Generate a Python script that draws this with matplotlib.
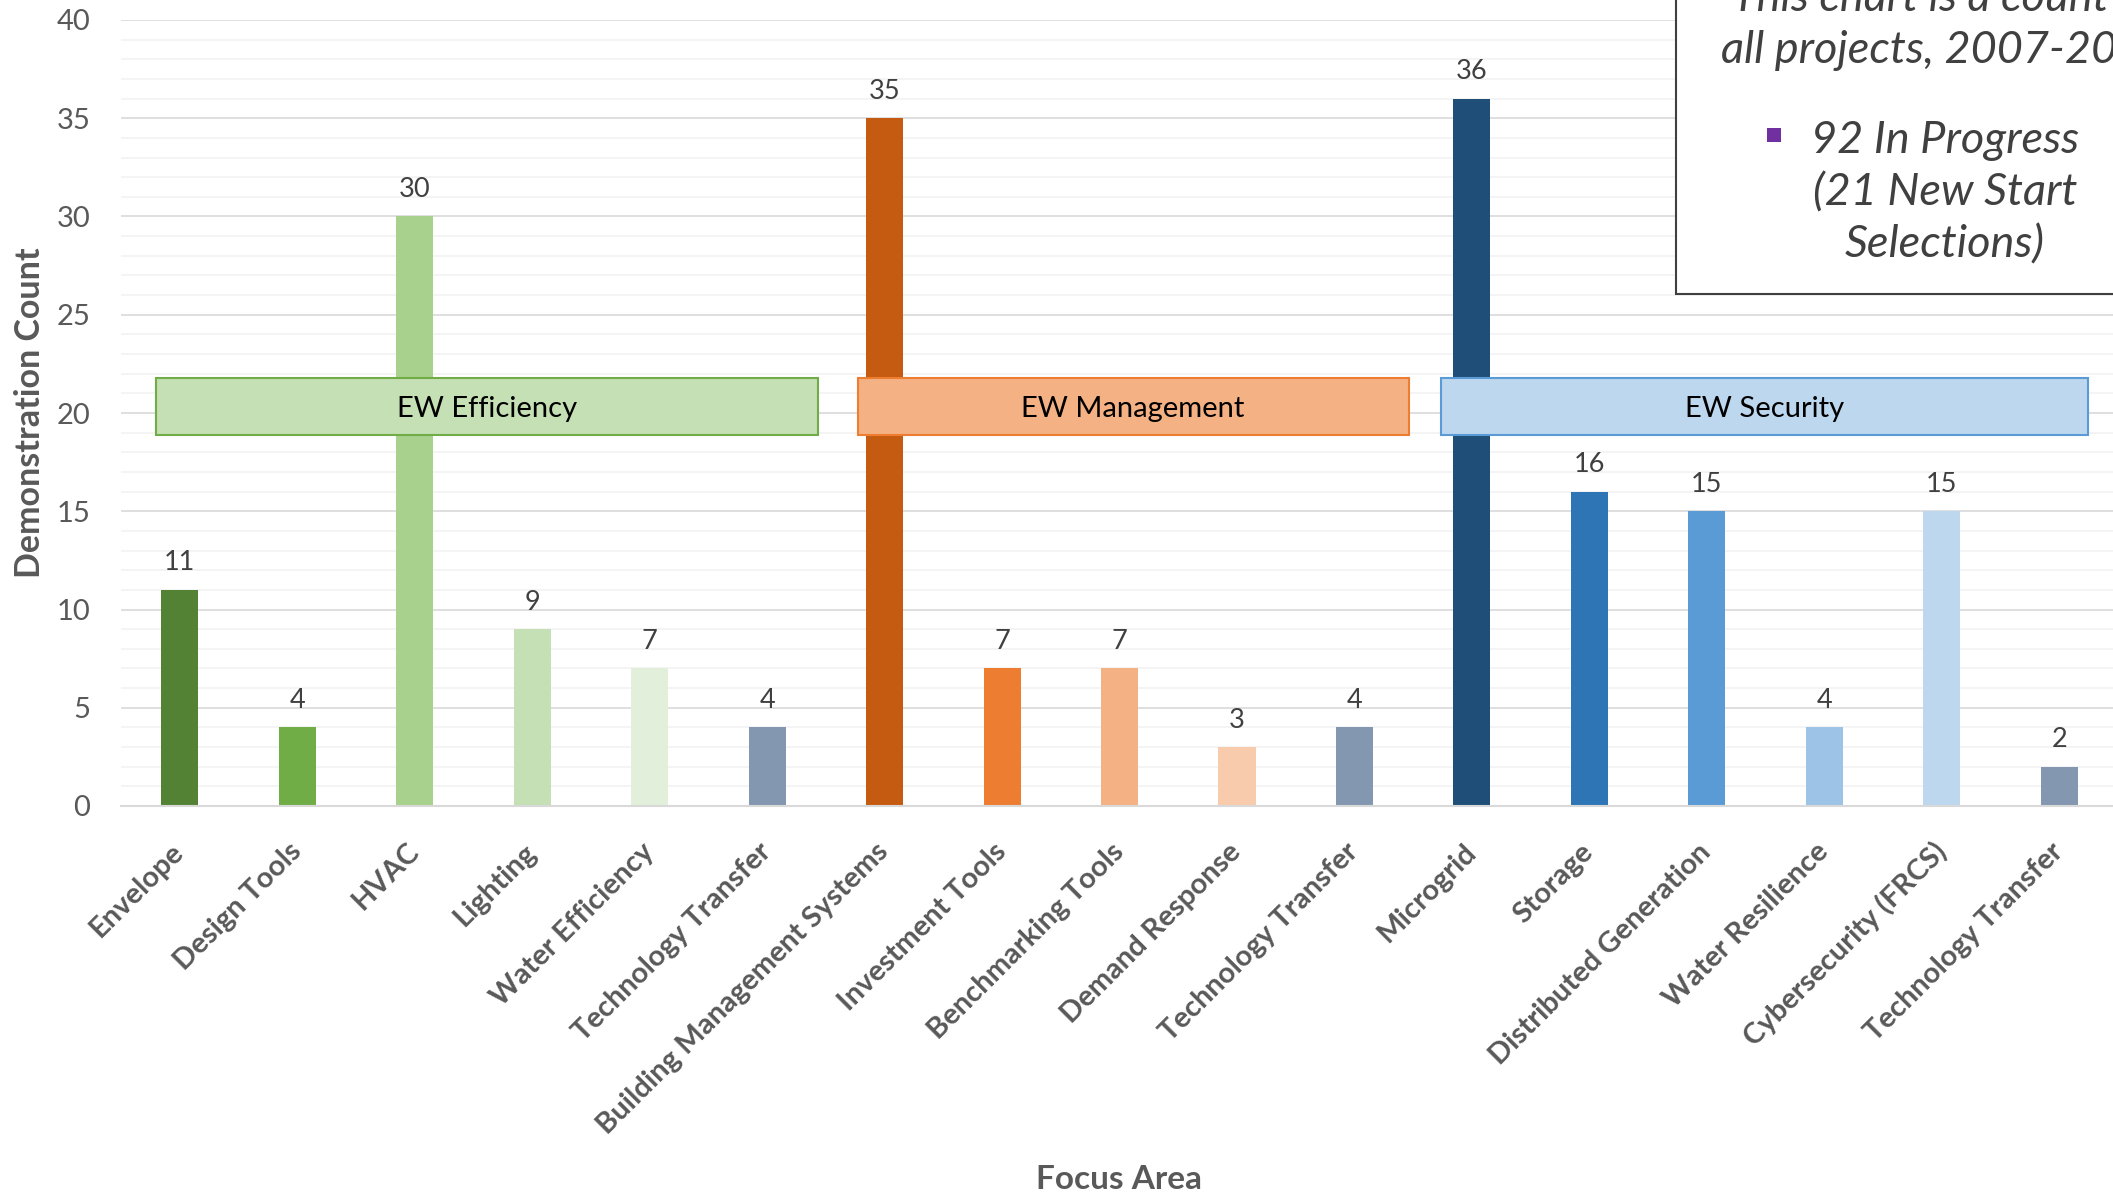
import matplotlib
matplotlib.use("Agg")
import matplotlib.pyplot as plt
from matplotlib.patches import Rectangle
from matplotlib.ticker import MultipleLocator

# focus areas and demonstration counts, left to right
categories = [
    "Envelope", "Design Tools", "HVAC", "Lighting", "Water Efficiency",
    "Technology Transfer", "Building Management Systems", "Investment Tools",
    "Benchmarking Tools", "Demand Response", "Technology Transfer",
    "Microgrid", "Storage", "Distributed Generation", "Water Resilience",
    "Cybersecurity (FRCS)", "Technology Transfer",
]
counts = [11, 4, 30, 9, 7, 4, 35, 7, 7, 3, 4, 36, 16, 15, 4, 15, 2]
bar_colors = [
    "#548235", "#70AD47", "#A9D18E", "#C5E0B4", "#E2EFDA", "#8497B0",
    "#C55A11", "#ED7D31", "#F4B183", "#F8CBAD", "#8497B0",
    "#1F4E79", "#2E75B6", "#5B9BD5", "#9DC3E6", "#BDD7EE", "#8497B0",
]

group_names = ["EW Efficiency", "EW Management", "EW Security"]
group_fill = ["#C5E0B4", "#F4B183", "#BDD7EE"]
group_edge = ["#70AD47", "#ED7D31", "#5B9BD5"]

note_lines = ["This chart is a count of", "all projects, 2007-2023"]
bullet_lines = ["92 In Progress", "(21 New Start", "Selections)"]

# layout (data units for the group banners)
group_x = [(-0.20, 5.43), (5.77, 10.46), (10.74, 16.24)]
banner_y = (18.9, 21.8)

plt.rcParams["font.family"] = ["Lato", "DejaVu Sans"]

W, H = 2113, 1192
fig = plt.figure(figsize=(W / 100, H / 100), dpi=100)
ax = fig.add_axes([121 / W, 1 - 806 / H, (W - 121) / W, 786 / H])

x = list(range(len(categories)))
ax.bar(x, counts, width=0.315, color=bar_colors, zorder=2)

for xi, v in zip(x, counts):
    ax.annotate(str(v), (xi, v), xytext=(0, 14), textcoords="offset points",
                ha="center", va="baseline", fontsize=19.5, color="#404040", zorder=4)

for name, (x0, x1), fc, ec in zip(group_names, group_x, group_fill, group_edge):
    ax.add_patch(Rectangle((x0, banner_y[0]), x1 - x0, banner_y[1] - banner_y[0],
                           facecolor=fc, edgecolor=ec, lw=1.5, zorder=3))
    ax.annotate(name, ((x0 + x1) / 2, sum(banner_y) / 2), xytext=(0, -7.6),
                textcoords="offset points", ha="center", va="baseline",
                fontsize=21, color="black", zorder=4)

ax.set_xlim(-0.5, 16.457)
ax.set_ylim(0, 40)
ax.yaxis.set_major_locator(MultipleLocator(5))
ax.yaxis.set_minor_locator(MultipleLocator(1))
ax.grid(which="major", axis="y", color="#D9D9D9", lw=1.2)
ax.grid(which="minor", axis="y", color="#F2F2F2", lw=1.2)
ax.set_axisbelow(True)

for side in ["top", "left", "right"]:
    ax.spines[side].set_visible(False)
ax.spines["bottom"].set_color("#D9D9D9")
ax.spines["bottom"].set_linewidth(1.5)

ax.tick_params(axis="y", which="both", length=0, pad=22, labelsize=21, labelcolor="#595959")
ax.set_xticks(x)
ax.set_xticklabels(categories, rotation=45, ha="right", va="center", rotation_mode="anchor",
                   fontweight="bold", fontsize=21, color="#595959")
ax.tick_params(axis="x", length=0, pad=30)

ax.set_ylabel("Demonstration Count", fontsize=24.5, fontweight="bold", color="#595959")
ax.yaxis.label.set_va("center")
ax.yaxis.set_label_coords(-0.0457, 0.5)
ax.set_xlabel("Focus Area", fontsize=24, fontweight="bold", color="#595959")
ax.xaxis.label.set_va("center")
ax.xaxis.set_label_coords(0.5008, -0.4746)

# note box in the top right corner, running off the figure
fig.add_artist(Rectangle((1676 / W, 1 - 294 / H), 0.4, 0.5, transform=fig.transFigure,
                         facecolor="white", edgecolor="#404040", lw=1.5, zorder=5))
cx = 1945 / W
for line, base in zip(note_lines, [11, 63]):
    fig.text(cx, 1 - base / H, line, ha="center", va="baseline", style="italic",
             fontsize=32.5, color="#404040", zorder=6)
for line, base in zip(bullet_lines, [153, 205, 257]):
    fig.text(cx, 1 - base / H, line, ha="center", va="baseline", style="italic",
             fontsize=32.5, color="#404040", zorder=6)
fig.add_artist(Rectangle((1767 / W, 1 - 142 / H), 14 / W, 14 / H, transform=fig.transFigure,
                         facecolor="#7030A0", edgecolor="none", zorder=6))

fig.savefig("out.png", dpi=100)
